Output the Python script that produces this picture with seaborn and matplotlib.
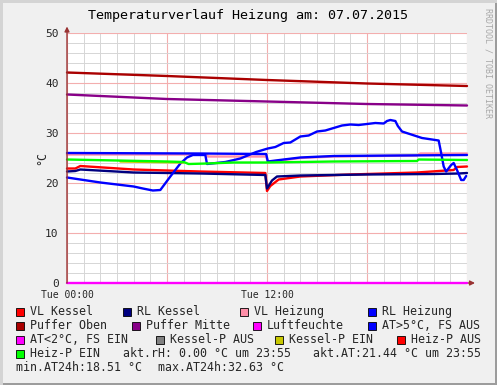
import matplotlib
matplotlib.use("Agg")
import matplotlib.pyplot as plt
from matplotlib.patches import Rectangle
import seaborn as sns

sns.set_style("white")
plt.rcParams["font.family"] = ["DejaVu Sans Mono", "DejaVu Sans"]

# ── Data (hours of 07.07.2015, °C) ────────────────────────────────────────────
vl_kessel_h = [0, 0.5, 0.8, 4, 8, 11.9, 12.0, 12.2, 12.7, 14, 17, 21, 23.2, 23.4, 24]
vl_kessel_v = [22.9, 22.9, 23.4, 22.7, 22.3, 22.0, 18.4, 19.4, 20.7, 21.3, 21.7, 22.1, 22.6, 23.2, 23.3]

rl_kessel_h = [0, 0.5, 0.8, 4, 8, 11.9, 12.0, 12.3, 12.6, 14, 18, 22, 23.5, 24]
rl_kessel_v = [22.3, 22.4, 22.7, 22.1, 21.9, 21.6, 18.9, 20.5, 21.3, 21.5, 21.7, 21.8, 21.9, 22.0]

vl_heizung_h = [0, 8.4, 8.45, 11.95, 12.05, 14, 16, 21, 21.2, 24]
vl_heizung_v = [25.7, 25.7, 25.3, 25.3, 24.2, 25.0, 25.3, 25.5, 25.9, 25.9]

rl_heizung_h = [0, 8, 11.95, 12.05, 13, 14, 16, 20, 24]
rl_heizung_v = [26.0, 25.9, 25.8, 24.3, 24.7, 25.1, 25.4, 25.5, 25.6]

puffer_oben_h = [0, 6, 12, 18, 24]
puffer_oben_v = [42.1, 41.4, 40.6, 39.9, 39.4]

puffer_mitte_h = [0, 6, 12, 18, 24]
puffer_mitte_v = [37.7, 36.8, 36.3, 35.8, 35.5]

luftfeuchte_h = [0, 24]
luftfeuchte_v = [0.0, 0.0]

at_h = [0, 0.8, 2.0, 3.0, 4.0, 4.55, 5.15, 5.6, 6.2, 6.8, 7.2, 7.55, 8.3, 8.4,
        9.5, 10.4, 11.35, 12.05, 12.5, 13.0, 13.4, 14.0, 14.5, 15.0, 15.5, 16.0,
        16.5, 17.0, 17.5, 18.0, 18.5, 19.0, 19.2, 19.4, 19.7, 19.85, 20.1, 21.3,
        22.3, 22.45, 22.6, 22.75, 23.05, 23.2, 23.4, 23.65, 23.8, 23.95]
at_v = [21.1, 20.7, 20.1, 19.7, 19.3, 18.9, 18.5, 18.6, 21.3, 23.9, 25.1, 25.6, 25.6, 23.8,
        24.2, 24.9, 26.2, 26.9, 27.2, 28.0, 28.1, 29.3, 29.5, 30.3, 30.5, 31.0,
        31.5, 31.7, 31.6, 31.8, 32.0, 31.9, 32.4, 32.6, 32.4, 31.4, 30.3, 29.0,
        28.5, 26.0, 23.3, 22.3, 23.6, 24.0, 22.6, 20.6, 20.6, 21.4]

kessel_p_ein_h = [3.2, 7.0]
kessel_p_ein_v = [24.3, 24.1]

heiz_p_ein_h = [0, 3, 6, 7.0, 7.3, 8.4, 10, 12, 16, 21.0, 21.1, 24]
heiz_p_ein_v = [24.7, 24.5, 24.3, 24.2, 23.8, 23.9, 24.1, 24.1, 24.3, 24.4, 24.7, 24.6]

series = [
    (vl_kessel_h, vl_kessel_v, "#ff0000"),
    (rl_kessel_h, rl_kessel_v, "#000080"),
    (vl_heizung_h, vl_heizung_v, "#ff8fa8"),
    (rl_heizung_h, rl_heizung_v, "#0000ff"),
    (puffer_oben_h, puffer_oben_v, "#aa0000"),
    (puffer_mitte_h, puffer_mitte_v, "#880088"),
    (luftfeuchte_h, luftfeuchte_v, "#ff00ff"),
    (at_h, at_v, "#0000ff"),
    (kessel_p_ein_h, kessel_p_ein_v, "#c8c800"),
    (heiz_p_ein_h, heiz_p_ein_v, "#00ff00"),
]

legend_rows = [
    [("VL Kessel", "#ff0000", 16), ("RL Kessel", "#000080", 123),
     ("VL Heizung", "#ff8fa8", 240), ("RL Heizung", "#0000ff", 368)],
    [("Puffer Oben", "#aa0000", 16), ("Puffer Mitte", "#880088", 132),
     ("Luftfeuchte", "#ff00ff", 253), ("AT>5°C, FS AUS", "#0000ff", 368)],
    [("AT<2°C, FS EIN", "#ff00ff", 16), ("Kessel-P AUS", "#808080", 156),
     ("Kessel-P EIN", "#c8c800", 275), ("Heiz-P AUS", "#ff0000", 397)],
    [("Heiz-P EIN", "#00ff00", 16)],
]
info_texts = [
    ("akt.rH: 0.00 °C um 23:55", 123, 3),
    ("akt.AT:21.44 °C um 23:55", 313, 3),
    ("min.AT24h:18.51 °C", 16.5, 4),
    ("max.AT24h:32.63 °C", 158, 4),
]

# ── Figure ────────────────────────────────────────────────────────────────────
W, H = 497, 385
fig = plt.figure(figsize=(W / 100, H / 100), dpi=100, facecolor="#f0f0f0")

def fx(px): return px / W
def fy(py): return 1 - py / H

# bevel frame
fig.patches.append(Rectangle((0, 0), 1, fy(0) - fy(2.5), transform=fig.transFigure,
                             facecolor="#9c9c9c", edgecolor="none", zorder=-1))
fig.patches.append(Rectangle((fx(494.5), 0), fx(2.5), 1, transform=fig.transFigure,
                             facecolor="#9c9c9c", edgecolor="none", zorder=-1))
fig.patches.append(Rectangle((0, fy(2.5)), 1, fy(0) - fy(2.5), transform=fig.transFigure,
                             facecolor="#d4d4d4", edgecolor="none", zorder=-1))
fig.patches.append(Rectangle((0, 0), fx(2.5), 1, transform=fig.transFigure,
                             facecolor="#d4d4d4", edgecolor="none", zorder=-1))

ax = fig.add_axes([fx(67), fy(283), fx(400), fy(33) - fy(283)])
ax.set_facecolor("white")

for h, v, c in series:
    sns.lineplot(x=h, y=v, ax=ax, color=c, linewidth=1.7, estimator=None, sort=False,
                 zorder=4, clip_on=False)

ax.set_xlim(0, 24)
ax.set_ylim(0, 50)
ax.set_xticks([0, 6, 12, 18, 24])
ax.set_xticklabels(["Tue 00:00", "", "Tue 12:00", "", ""], fontsize=7)
ax.set_xticks(range(25), minor=True)
ax.set_yticks(range(0, 51, 10))
ax.set_yticklabels([str(t) for t in range(0, 51, 10)], fontsize=8)
ax.set_yticks(range(0, 51, 2), minor=True)
ax.tick_params(which="both", length=0)
ax.tick_params(axis="y", pad=6)
ax.tick_params(axis="x", pad=5)
ax.grid(which="minor", color="#d6d6d6", linewidth=0.7)
ax.grid(which="major", color="#f3aeae", linewidth=0.8)
ax.set_axisbelow(True)
ax.set_xlabel(""); ax.set_ylabel("")
for s in ax.spines.values():
    s.set_visible(False)

axis_col = "#993333"
ax.annotate("", xy=(0, 1.026), xytext=(0, 0), xycoords="axes fraction",
            arrowprops=dict(arrowstyle="-|>", color=axis_col, lw=1, mutation_scale=7,
                            shrinkA=0, shrinkB=0), annotation_clip=False, zorder=5)
ax.annotate("", xy=(1.02, 0), xytext=(0, 0), xycoords="axes fraction",
            arrowprops=dict(arrowstyle="-|>", color=axis_col, lw=1, mutation_scale=7,
                            shrinkA=0, shrinkB=0), annotation_clip=False, zorder=3)

fig.text(fx(248), fy(16), "Temperaturverlauf Heizung am: 07.07.2015",
         ha="center", va="center", fontsize=9.6, color="black")
fig.text(fx(42), fy(158), "°C", rotation=90, ha="center", va="center", fontsize=8.4)
fig.text(fx(488), fy(8), "RRDTOOL / TOBI OETIKER", rotation=270, ha="center", va="top",
         fontsize=6, color="#a8a8a8")

# legend
baselines = [315, 329, 343, 357, 371]
for r, row in enumerate(legend_rows):
    for label, col, x0 in row:
        fig.patches.append(Rectangle((fx(x0), fy(baselines[r] + 0.5)), fx(8), fy(0) - fy(8),
                                     transform=fig.transFigure, facecolor=col,
                                     edgecolor="black", linewidth=0.6))
        fig.text(fx(x0 + 14), fy(baselines[r]), label, ha="left", va="baseline", fontsize=8.4)
for txt, x0, r in info_texts:
    fig.text(fx(x0), fy(baselines[r]), txt, ha="left", va="baseline", fontsize=8.4)

fig.savefig("out.png", dpi=100, facecolor=fig.get_facecolor())
